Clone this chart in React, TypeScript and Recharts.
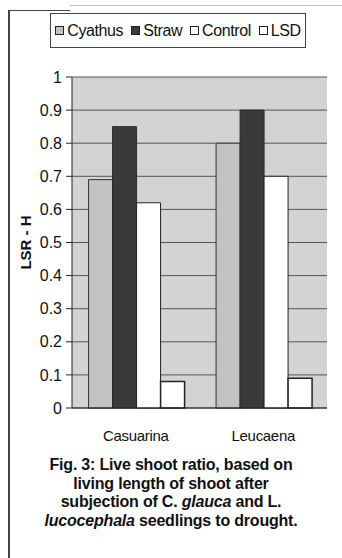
import React from 'react';
import { BarChart, Bar, XAxis, YAxis, CartesianGrid, Legend } from 'recharts';

const categories = ['Casuarina', 'Leucaena'];
const cyathus = [0.69, 0.8];
const straw = [0.85, 0.9];
const control = [0.62, 0.7];
const lsd = [0.08, 0.09];
const seriesNames = ['Cyathus', 'Straw', 'Control', 'LSD'];
const yTicks = [0, 0.1, 0.2, 0.3, 0.4, 0.5, 0.6, 0.7, 0.8, 0.9, 1];
const yTickLabels = ['0', '0.1', '0.2', '0.3', '0.4', '0.5', '0.6', '0.7', '0.8', '0.9', '1'];
const yLabel = 'LSR - H';

const data = categories.map((c, i) => ({
  name: c,
  Cyathus: cyathus[i],
  Straw: straw[i],
  Control: control[i],
  LSD: lsd[i],
}));

const FONT = '"Liberation Sans", Arial, sans-serif';
const fills = ['#c2c2c2', '#3a3a3a', '#ffffff', '#ffffff'];

const LegendBox = () => (
  <div
    style={{
      border: '1px solid #444',
      height: 35,
      boxSizing: 'border-box',
      display: 'flex',
      alignItems: 'center',
      justifyContent: 'center',
      fontFamily: FONT,
      fontSize: 16,
      color: '#111',
      background: '#fff',
      letterSpacing: -0.4,
    }}
  >
    {seriesNames.map((n, i) => (
      <span key={n} style={{ display: 'inline-flex', alignItems: 'center', marginRight: i < 3 ? 8 : 0 }}>
        <span
          style={{
            display: 'inline-block',
            width: 7,
            height: 7,
            border: '1px solid #222',
            background: fills[i],
            marginRight: 3,
          }}
        />
        {n}
      </span>
    ))}
  </div>
);

export default function App() {
  return (
    <div style={{ position: 'absolute', left: 0, top: 0, width: 342, height: 558, background: '#fff', fontFamily: FONT }}>
      <div style={{ position: 'absolute', left: 8, top: 10, width: 2, height: 548, background: '#444' }} />
      <div style={{ position: 'absolute', left: 8, top: 10, width: 62, height: 1, background: '#444' }} />
      <div style={{ position: 'absolute', left: 70, top: 5, width: 272, height: 1, background: '#bbb' }} />
      <div style={{ position: 'absolute', left: 0, top: 0 }}>
        <BarChart
          width={342}
          height={450}
          data={data}
          margin={{ top: 77, right: 15, bottom: 12, left: 0 }}
          barCategoryGap="13%"
          barGap={0}
        >
          <CartesianGrid vertical={false} stroke="#555" fill="#d3d3d3" fillOpacity={1} />
          <XAxis
            dataKey="name"
            height={30}
            tickLine={false}
            axisLine={{ stroke: '#222' }}
            tickMargin={16}
            tick={{ fill: '#111', fontSize: 15, fontFamily: FONT, letterSpacing: -0.3 }}
          />
          <YAxis
            width={72}
            domain={[0, 1]}
            ticks={yTicks}
            interval={0}
            tickFormatter={(v: number) => yTickLabels[yTicks.indexOf(v)] ?? String(v)}
            tickSize={6}
            tickMargin={4}
            axisLine={{ stroke: '#222' }}
            tickLine={{ stroke: '#222' }}
            tick={{ fill: '#111', fontSize: 16, fontFamily: FONT }}
          />
          <Legend
            verticalAlign="middle"
            align="center"
            layout="horizontal"
            wrapperStyle={{ left: 50, top: 13, width: 256 }}
            content={() => <LegendBox />}
          />
          <Bar dataKey="Cyathus" fill={fills[0]} stroke="#333" strokeWidth={1} isAnimationActive={false} />
          <Bar dataKey="Straw" fill={fills[1]} stroke="#2a2a2a" strokeWidth={1} isAnimationActive={false} />
          <Bar dataKey="Control" fill={fills[2]} stroke="#222" strokeWidth={1} isAnimationActive={false} />
          <Bar dataKey="LSD" fill={fills[3]} stroke="#222" strokeWidth={1.5} isAnimationActive={false} />
        </BarChart>
      </div>
      <div
        style={{
          position: 'absolute',
          left: 17,
          top: 234,
          width: 16,
          height: 16,
          display: 'flex',
          alignItems: 'center',
          justifyContent: 'center',
        }}
      >
        <span
          style={{
            transform: 'rotate(-90deg)',
            whiteSpace: 'nowrap',
            fontSize: 15,
            fontWeight: 'bold',
            color: '#111',
            display: 'inline-block',
          }}
        >
          {yLabel}
        </span>
      </div>
      <div
        style={{
          position: 'absolute',
          left: 0,
          top: 456,
          width: 342,
          textAlign: 'center',
          fontSize: 16,
          fontWeight: 'bold',
          lineHeight: '18.5px',
          color: '#111',
          letterSpacing: -0.2,
        }}
      >
        <div>Fig. 3: Live shoot ratio, based on</div>
        <div>living length of shoot after</div>
        <div>
          subjection of C. <i>glauca</i> and L.
        </div>
        <div>
          <i>lucocephala</i> seedlings to drought.
        </div>
      </div>
    </div>
  );
}
